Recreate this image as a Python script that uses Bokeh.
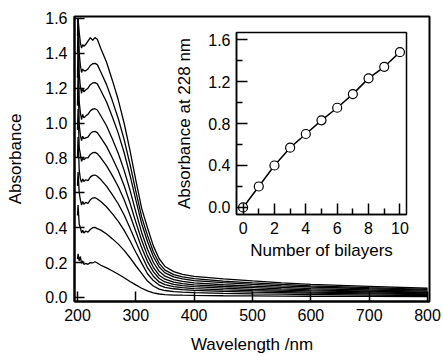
from bokeh.plotting import figure
from bokeh.models import FixedTicker, PrintfTickFormatter
from bokeh.layouts import column
from bokeh.embed import file_html
from bokeh.resources import INLINE

FONT = "Liberation Sans"

# ---------------- data ----------------
wavelength = [200, 201, 203, 205, 207, 209, 211, 214, 218, 222, 226, 230, 234,
              240, 250, 260, 270, 280, 290, 300, 310, 320, 330, 340, 350, 365,
              380, 400, 450, 500, 550, 600, 700, 800]

spec_1 = [0.22, 0.25, 0.21, 0.235, 0.195, 0.21, 0.19, 0.195, 0.19, 0.20, 0.198, 0.205, 0.198,
          0.185, 0.17, 0.152, 0.133, 0.113, 0.092, 0.072, 0.053, 0.038, 0.027, 0.02, 0.016, 0.014,
          0.013, 0.012, 0.010, 0.009, 0.008, 0.007, 0.006, 0.005]
spec_2 = [0.47, 0.53, 0.42, 0.40, 0.37, 0.385, 0.37, 0.38, 0.375, 0.39, 0.40, 0.402, 0.395,
          0.386, 0.364, 0.336, 0.306, 0.27, 0.228, 0.182, 0.138, 0.094, 0.066, 0.048, 0.040, 0.034,
          0.031, 0.028, 0.024, 0.021, 0.019, 0.017, 0.014, 0.011]
spec_3 = [0.64, 0.72, 0.60, 0.56, 0.53, 0.55, 0.535, 0.545, 0.54, 0.56, 0.57, 0.572, 0.565,
          0.55, 0.519, 0.479, 0.436, 0.385, 0.325, 0.259, 0.197, 0.136, 0.097, 0.071, 0.058, 0.050,
          0.045, 0.041, 0.035, 0.031, 0.028, 0.025, 0.021, 0.017]
spec_4 = [0.80, 0.92, 0.73, 0.68, 0.66, 0.68, 0.665, 0.675, 0.67, 0.69, 0.70, 0.702, 0.695,
          0.676, 0.637, 0.588, 0.536, 0.473, 0.399, 0.319, 0.242, 0.171, 0.122, 0.089, 0.074, 0.062,
          0.056, 0.051, 0.044, 0.039, 0.035, 0.031, 0.026, 0.021]
spec_5 = [0.96, 1.08, 0.86, 0.82, 0.78, 0.80, 0.79, 0.80, 0.80, 0.82, 0.83, 0.832, 0.825,
          0.801, 0.755, 0.697, 0.635, 0.560, 0.473, 0.378, 0.286, 0.206, 0.148, 0.109, 0.089, 0.075,
          0.068, 0.062, 0.054, 0.047, 0.042, 0.038, 0.032, 0.026]
spec_6 = [1.10, 1.28, 0.99, 0.93, 0.90, 0.925, 0.91, 0.915, 0.92, 0.94, 0.95, 0.952, 0.945,
          0.917, 0.865, 0.798, 0.727, 0.641, 0.542, 0.432, 0.328, 0.240, 0.173, 0.128, 0.105, 0.088,
          0.079, 0.072, 0.063, 0.056, 0.049, 0.044, 0.037, 0.030]
spec_7 = [1.26, 1.45, 1.12, 1.06, 1.02, 1.05, 1.03, 1.04, 1.05, 1.07, 1.08, 1.082, 1.075,
          1.042, 0.983, 0.907, 0.826, 0.729, 0.616, 0.491, 0.373, 0.277, 0.202, 0.150, 0.122, 0.102,
          0.092, 0.084, 0.073, 0.065, 0.058, 0.051, 0.043, 0.036]
spec_8 = [1.40, 1.58, 1.28, 1.21, 1.17, 1.20, 1.18, 1.19, 1.20, 1.22, 1.23, 1.232, 1.225,
          1.187, 1.119, 1.033, 0.941, 0.830, 0.701, 0.560, 0.424, 0.321, 0.235, 0.175, 0.141, 0.118,
          0.107, 0.097, 0.085, 0.075, 0.067, 0.060, 0.050, 0.042]
spec_9 = [1.50, 1.60, 1.40, 1.33, 1.29, 1.31, 1.30, 1.30, 1.31, 1.33, 1.34, 1.342, 1.335,
          1.293, 1.219, 1.126, 1.025, 0.905, 0.764, 0.610, 0.462, 0.356, 0.262, 0.196, 0.157, 0.131,
          0.118, 0.108, 0.094, 0.084, 0.075, 0.067, 0.056, 0.047]
spec_10 = [1.58, 1.60, 1.52, 1.46, 1.43, 1.45, 1.44, 1.45, 1.47, 1.49, 1.475, 1.49, 1.48,
           1.428, 1.347, 1.243, 1.132, 0.999, 0.844, 0.673, 0.511, 0.400, 0.296, 0.222, 0.178, 0.148,
           0.133, 0.121, 0.107, 0.095, 0.084, 0.075, 0.064, 0.053]
spectra = [spec_1, spec_2, spec_3, spec_4, spec_5, spec_6, spec_7, spec_8, spec_9, spec_10]

bilayers = [0, 1, 2, 3, 4, 5, 6, 7, 8, 9, 10]
abs228 = [0.0, 0.20, 0.40, 0.57, 0.70, 0.83, 0.95, 1.08, 1.23, 1.34, 1.48]

main_xticks = [200, 300, 400, 500, 600, 700, 800]
main_yticks = [0.0, 0.2, 0.4, 0.6, 0.8, 1.0, 1.2, 1.4, 1.6]
inset_xticks = [0, 2, 4, 6, 8, 10]
inset_xminor = [1, 3, 5, 7, 9]
inset_yticks = [0.0, 0.4, 0.8, 1.2, 1.6]
inset_yminor = [0.2, 0.6, 1.0, 1.4]


def style_axes(fig, tick_in, lw):
    for ax in (fig.xaxis, fig.yaxis):
        ax.axis_line_width = lw
        ax.axis_line_color = "black"
        ax.major_tick_in = tick_in
        ax.major_tick_out = 0
        ax.major_tick_line_width = 1.5
        ax.major_tick_line_color = "black"
        ax.major_label_text_font = FONT
        ax.major_label_text_font_size = "16px"
        ax.major_label_text_color = "black"
        ax.axis_label_text_font = FONT
        ax.axis_label_text_font_size = "17px"
        ax.axis_label_text_font_style = "normal"
        ax.axis_label_text_color = "black"
    fig.xgrid.visible = False
    fig.ygrid.visible = False
    fig.outline_line_color = "black"
    fig.outline_line_alpha = 1.0
    fig.outline_line_width = lw


# ---------------- main plot ----------------
p = figure(width=443, height=356, x_range=(194.9, 803.4), y_range=(-0.023, 1.611),
           output_backend="svg", toolbar_location=None,
           min_border_left=74, min_border_right=14, min_border_top=16, min_border_bottom=54,
           background_fill_color="white", border_fill_color="white")

for s in spectra:
    p.line(wavelength, s, line_color="black", line_width=1.3)

style_axes(p, 10, 2)
p.xaxis.ticker = FixedTicker(ticks=main_xticks)
p.yaxis.ticker = FixedTicker(ticks=main_yticks)
p.yaxis.formatter = PrintfTickFormatter(format="%.1f")
p.xaxis.minor_tick_line_color = None
p.yaxis.minor_tick_line_color = None
p.xaxis.major_label_standoff = 7
p.yaxis.major_label_standoff = 7
p.yaxis.axis_label = "Absorbance"
p.yaxis.axis_label_standoff = 17
p.xaxis.axis_label = "Wavelength /nm"
p.xaxis.axis_label_standoff = 11

# ---------------- inset ----------------
ip = figure(width=258, height=242, x_range=(-0.42, 10.42), y_range=(-0.067, 1.667),
            output_backend="svg", toolbar_location=None,
            min_border_left=70, min_border_right=6, min_border_top=4, min_border_bottom=56,
            background_fill_color="white", border_fill_alpha=0)
ip.styles = {"position": "absolute", "left": "162px", "top": "28px"}

ip.line(bilayers, abs228, line_color="black", line_width=1.5)
ip.scatter(bilayers, abs228, marker="circle", size=9, fill_color="white",
           line_color="black", line_width=1.2)

style_axes(ip, 11, 1.5)
ip.xaxis.ticker = FixedTicker(ticks=inset_xticks, minor_ticks=inset_xminor)
ip.yaxis.ticker = FixedTicker(ticks=inset_yticks, minor_ticks=inset_yminor)
ip.yaxis.formatter = PrintfTickFormatter(format="%.1f")
for ax in (ip.xaxis, ip.yaxis):
    ax.minor_tick_in = 6
    ax.minor_tick_out = 0
    ax.minor_tick_line_width = 1.5
    ax.minor_tick_line_color = "black"
ip.xaxis.major_label_standoff = 7
ip.yaxis.major_label_standoff = 6
ip.xaxis.axis_label = "Number of bilayers"
ip.xaxis.axis_label_standoff = 4
ip.yaxis.axis_label = "Absorbance at 228 nm"
ip.yaxis.axis_label_standoff = 11

layout = column(p, ip, width=443, height=356)
layout.styles = {"position": "relative"}

open("out.html", "w").write(file_html(layout, INLINE))
